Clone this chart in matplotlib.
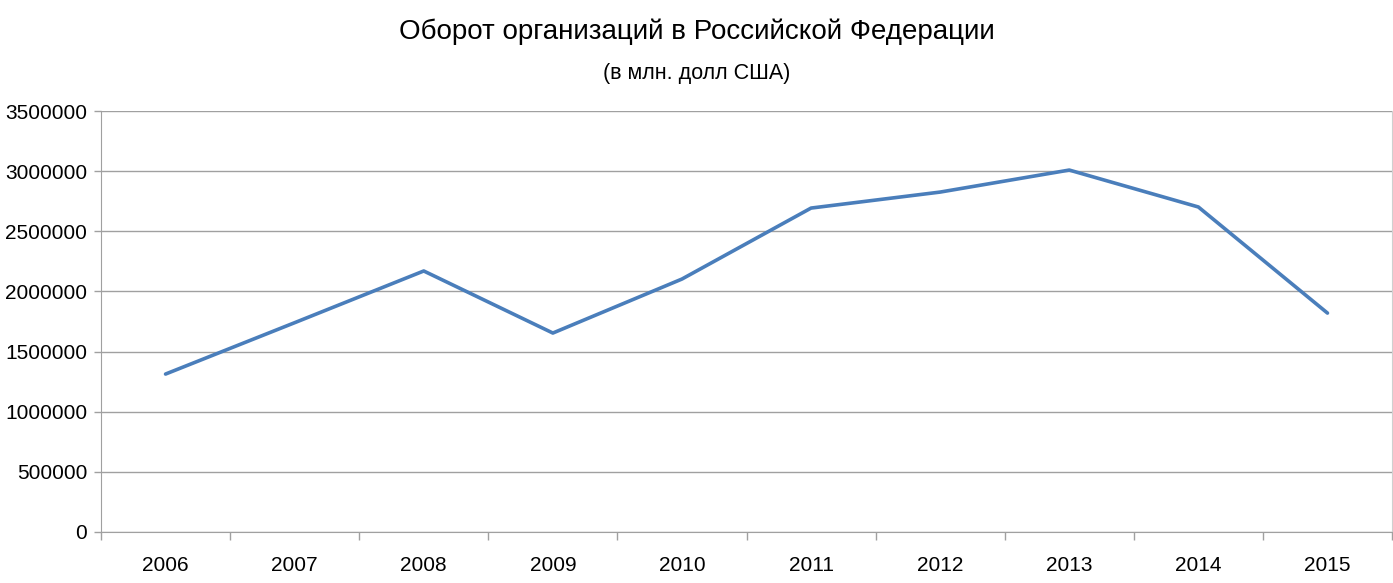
import matplotlib.pyplot as plt
import numpy as np

plt.rcParams['font.family'] = ['Liberation Sans', 'DejaVu Sans']

# Данные
years = ['2006', '2007', '2008', '2009', '2010', '2011', '2012', '2013', '2014', '2015']
turnover = [1313000, 1740000, 2170000, 1654000, 2103000, 2693000, 2826000, 3009000, 2702000, 1820000]
yticks = [0, 500000, 1000000, 1500000, 2000000, 2500000, 3000000, 3500000]

fig = plt.figure(figsize=(13.93, 5.83), dpi=100)
ax = fig.add_axes([0.0725, 0.0875, 0.9268, 0.7221])

x = np.arange(len(years))
ax.plot(x, turnover, color='#4a7ebb', linewidth=2.6, solid_capstyle='round', zorder=3)

ax.set_xlim(-0.5, len(years) - 0.5)
ax.set_ylim(0, 3500000)
ax.set_yticks(yticks)
ax.set_yticklabels([str(v) for v in yticks], fontsize=15)
ax.set_xticks(x)
ax.set_xticklabels(years, fontsize=15)
ax.set_xticks(np.arange(-0.5, len(years)), minor=True)
ax.tick_params(axis='x', which='major', length=0, pad=17)
ax.tick_params(axis='x', which='minor', length=6, color='#a0a0a0', width=1)
ax.tick_params(axis='y', length=5, color='#a0a0a0', width=1, pad=5)

ax.yaxis.grid(True, color='#a0a0a0', linewidth=1)
ax.set_axisbelow(True)
ax.spines['top'].set_visible(False)
ax.spines['left'].set_color('#a0a0a0')
ax.spines['bottom'].set_color('#a0a0a0')
ax.spines['right'].set_color('#d0d0d0')

fig.text(0.5, 0.945, 'Оборот организаций в Российской Федерации', ha='center', va='center', fontsize=20)
fig.text(0.5, 0.874, '(в млн. долл США)', ha='center', va='center', fontsize=15.5)

fig.savefig('out.png', dpi=100)
